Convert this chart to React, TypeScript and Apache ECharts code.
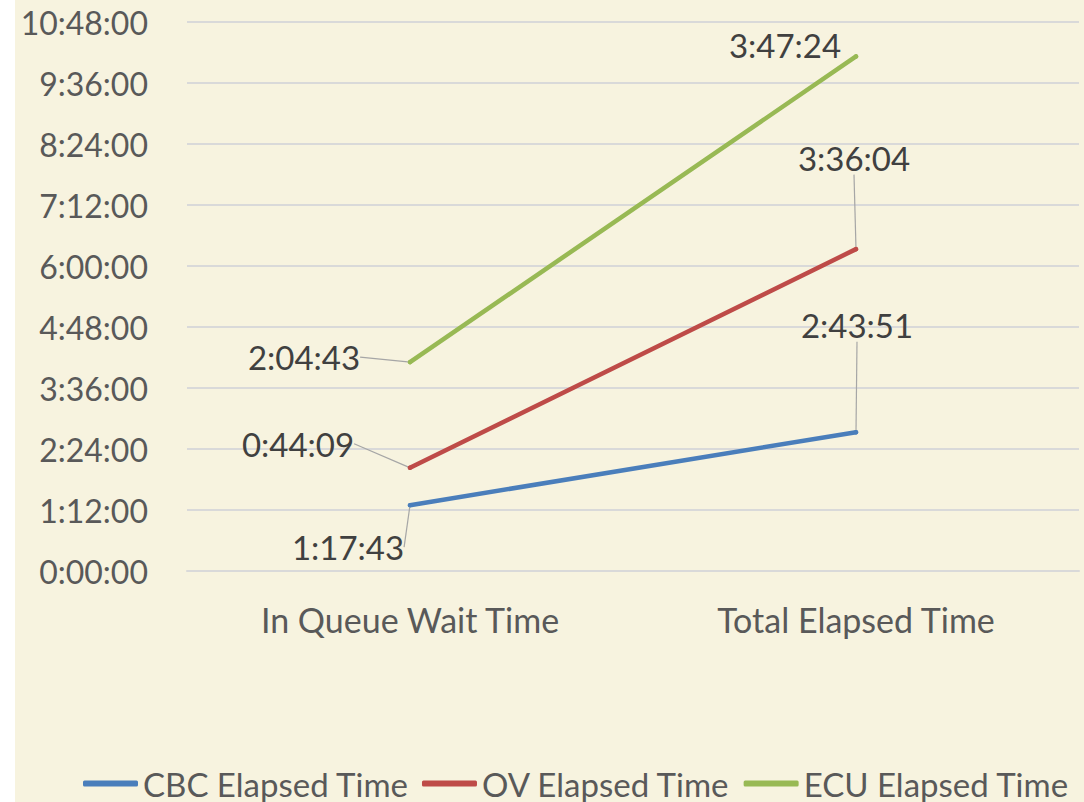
import React, { useEffect, useRef } from 'react';
import * as echarts from 'echarts';

const categories = ['In Queue Wait Time', 'Total Elapsed Time'];
const seriesNames = ['CBC Elapsed Time', 'OV Elapsed Time', 'ECU Elapsed Time'];
const cbcTimes = ['1:17:43', '2:43:51'];
const ovTimes = ['0:44:09', '3:36:04'];
const ecuTimes = ['2:04:43', '3:47:24'];
const yAxisMax = '10:48:00';
const yAxisStep = '1:12:00';
const titleText = '(h:mm:ss)';

const colors = ['#4A7EBB', '#BE4B48', '#98B954'];
const BG = '#F7F3DF';
const FONT = 'Lato';

// label offsets (dx, dy) from each point, per series
const labelOffsets = [
  [[-62, 42], [1, -107]],
  [[-112, -24], [-2, -91]],
  [[-106, -5], [-71, -11]],
];
const hideLeader = [[false, false], [false, false], [false, true]];

const toSec = (s: string) => {
  const [h, m, sec] = s.split(':').map(Number);
  return h * 3600 + m * 60 + sec;
};
const pad = (n: number) => (n < 10 ? '0' + n : '' + n);
const fmt = (v: number) => {
  const t = Math.round(v);
  const h = Math.floor(t / 3600);
  const m = Math.floor((t % 3600) / 60);
  const s = t % 60;
  return `${h}:${pad(m)}:${pad(s)}`;
};

export default function App() {
  const ref = useRef<HTMLDivElement>(null);
  useEffect(() => {
    if (!ref.current) return;
    const chart = echarts.init(ref.current, null, { renderer: 'svg' });
    const allTimes = [cbcTimes, ovTimes, ecuTimes];
    const series = allTimes.map((times, si) => ({
      name: seriesNames[si],
      type: 'line',
      stack: 'total',
      data: times.map((t, di) => ({
        value: toSec(t),
        labelLine: { show: !hideLeader[si][di] },
      })),
      symbol: 'circle',
      symbolSize: 4.5,
      showSymbol: true,
      lineStyle: { width: 4.5, color: colors[si], cap: 'round' },
      itemStyle: { color: colors[si] },
      label: {
        show: true,
        position: 'inside',
        formatter: (p: any) => fmt(p.value),
        fontFamily: FONT,
        fontSize: 33,
        color: '#404040',
      },
      labelLine: {
        show: true,
        lineStyle: { color: '#A6A6A6', width: 1.2 },
      },
      labelLayout: (params: any) => {
        const off = labelOffsets[si][params.dataIndex];
        return { dx: off[0], dy: off[1] };
      },
      emphasis: { disabled: true },
    }));

    chart.setOption({
      animation: false,
      backgroundColor: BG,
      color: colors,
      textStyle: { fontFamily: FONT },
      grid: { left: 172, right: 5, top: 22, bottom: 231, containLabel: false },
      graphic: [
        {
          type: 'text',
          x: 560,
          y: -21,
          style: {
            text: titleText,
            font: `40px ${FONT}`,
            fill: '#595959',
            textAlign: 'center',
            textVerticalAlign: 'middle',
          },
        },
      ],
      xAxis: {
        type: 'category',
        data: categories,
        boundaryGap: true,
        axisLine: { show: true, lineStyle: { color: '#D9D9D9', width: 2 } },
        axisTick: { show: false },
        axisLabel: { fontFamily: FONT, fontSize: 34, color: '#595959', margin: 31 },
      },
      yAxis: {
        type: 'value',
        min: 0,
        max: toSec(yAxisMax),
        interval: toSec(yAxisStep),
        axisLine: { show: false },
        axisTick: { show: false },
        splitLine: { lineStyle: { color: '#D9D9D9', width: 2 } },
        axisLabel: {
          fontFamily: FONT,
          fontSize: 32,
          color: '#595959',
          margin: 39,
          formatter: (v: number) => fmt(v),
        },
      },
      legend: {
        data: seriesNames,
        left: 63,
        top: 762,
        itemWidth: 55,
        itemHeight: 6,
        itemGap: 13,
        icon: 'roundRect',
        textStyle: { fontFamily: FONT, fontSize: 33, color: '#595959' },
      },
      series,
    });
    return () => chart.dispose();
  }, []);
  return (
    <div
      ref={ref}
      style={{ position: 'absolute', left: 15, top: 0, width: 1069, height: 802, background: BG }}
    />
  );
}
